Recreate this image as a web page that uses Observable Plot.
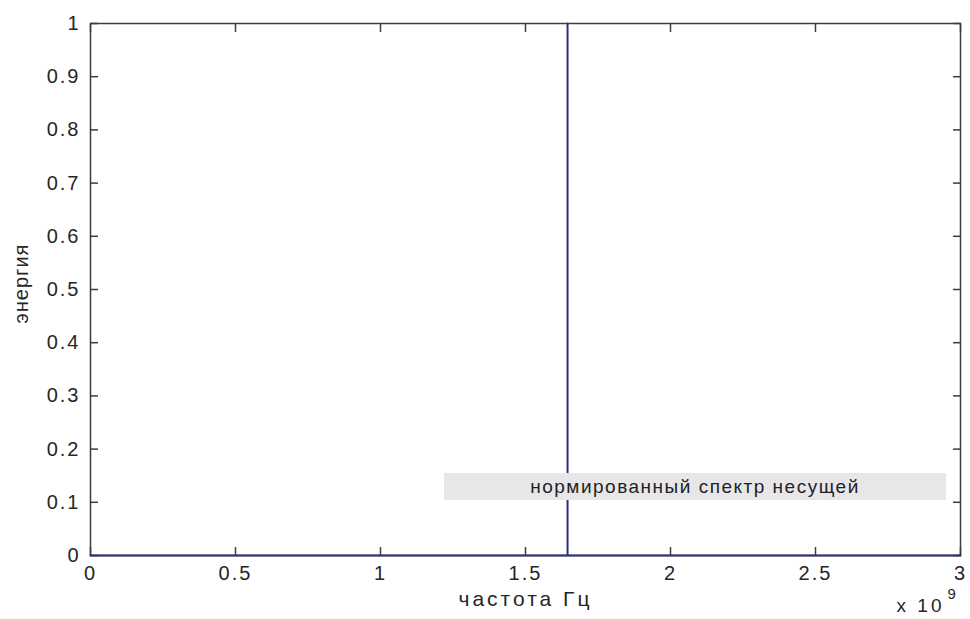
<!DOCTYPE html>
<html><head><meta charset="utf-8">
<script src="https://cdn.jsdelivr.net/npm/d3@7"></script>
<script src="https://cdn.jsdelivr.net/npm/@observablehq/plot@0.6"></script>
<style>
body{margin:0;background:#fff;}
#wrap{position:relative;width:970px;height:619px;overflow:hidden;}
#legend{position:absolute;left:444px;top:473px;width:502px;height:27px;background:#e7e7ea;font:19px "Liberation Sans",Arial,sans-serif;color:#222;text-align:center;line-height:27px;letter-spacing:1.5px;}
#wrap svg g[aria-label="x-axis tick label"] text,
#wrap svg g[aria-label="y-axis tick label"] text{letter-spacing:2px;}
</style></head><body><div id="wrap"></div>
<script>
// series: normalized carrier spectrum (single spectral line)
const freqHz = [0, 1.645e9, 1.645e9, 1.645e9, 3e9];
const energy = [0, 0, 1, 0, 0];
const xTicks = [0, 0.5e9, 1e9, 1.5e9, 2e9, 2.5e9, 3e9];
const xTickLabels = ["0", "0.5", "1", "1.5", "2", "2.5", "3"];
const yTicks = [0, 0.1, 0.2, 0.3, 0.4, 0.5, 0.6, 0.7, 0.8, 0.9, 1];
const yTickLabels = ["0", "0.1", "0.2", "0.3", "0.4", "0.5", "0.6", "0.7", "0.8", "0.9", "1"];
const seriesName = "нормированный спектр несущей";
const xLabel = "частота Гц";
const yLabel = "энергия";
const xExponentBase = "x 10";
const xExponent = "9";

const data = freqHz.map((f, i) => ({f, e: energy[i]}));
const axisColor = "#3d3d3d";
const textColor = "#262626";

const chart = Plot.plot({
  width: 970, height: 619,
  marginLeft: 90, marginRight: 10, marginTop: 23, marginBottom: 64,
  style: {fontFamily: "'Liberation Sans', Arial, sans-serif", fontSize: "20px", color: textColor, background: "#fff"},
  x: {domain: [0, 3e9]},
  y: {domain: [0, 1]},
  marks: [
    Plot.frame({stroke: axisColor, strokeWidth: 1.5}),
    Plot.axisX(xTicks, {anchor: "bottom", tickSize: -8, tickFormat: () => "", stroke: axisColor, strokeWidth: 1.5, label: null}),
    Plot.axisX(xTicks, {anchor: "top", tickSize: -8, tickFormat: () => "", stroke: axisColor, strokeWidth: 1.5, label: null}),
    Plot.axisY(yTicks, {anchor: "left", tickSize: -8, tickFormat: () => "", stroke: axisColor, strokeWidth: 1.5, label: null}),
    Plot.axisY(yTicks, {anchor: "right", tickSize: -8, tickFormat: () => "", stroke: axisColor, strokeWidth: 1.5, label: null}),
    Plot.axisX(xTicks, {anchor: "bottom", tickSize: 0, tickPadding: 10, tickFormat: d => xTickLabels[xTicks.indexOf(d)], label: null, fill: textColor}),
    Plot.axisY(yTicks, {anchor: "left", tickSize: 0, tickPadding: 10, tickFormat: d => yTickLabels[yTicks.indexOf(d)], label: null, fill: textColor}),
    Plot.line(data, {x: "f", y: "e", stroke: "#2e2e7e", strokeWidth: 2}),
    Plot.text([xLabel], {frameAnchor: "bottom", dy: 50, fill: textColor, fontSize: 21}),
    Plot.text([yLabel], {frameAnchor: "left", textAnchor: "middle", dx: -69, dy: -6, rotate: -90, fill: textColor, fontSize: 20}),
    Plot.text([xExponentBase], {frameAnchor: "bottom-right", textAnchor: "end", dx: -16, dy: 56, fill: textColor, fontSize: 19}),
    Plot.text([xExponent], {frameAnchor: "bottom-right", textAnchor: "start", dx: -13, dy: 43, fill: textColor, fontSize: 15})
  ]
});
// letter spacing for the stretched MATLAB-style labels
const spacing = new Map([[xLabel, "3px"], [yLabel, "1px"], [xExponentBase, "3px"]]);
d3.select(chart).selectAll("text").each(function() {
  const s = spacing.get(this.textContent);
  if (s) this.style.letterSpacing = s;
});
const wrap = document.getElementById("wrap");
wrap.appendChild(chart);
const legend = document.createElement("div");
legend.id = "legend";
legend.textContent = seriesName;
wrap.appendChild(legend);
</script>
</body></html>
